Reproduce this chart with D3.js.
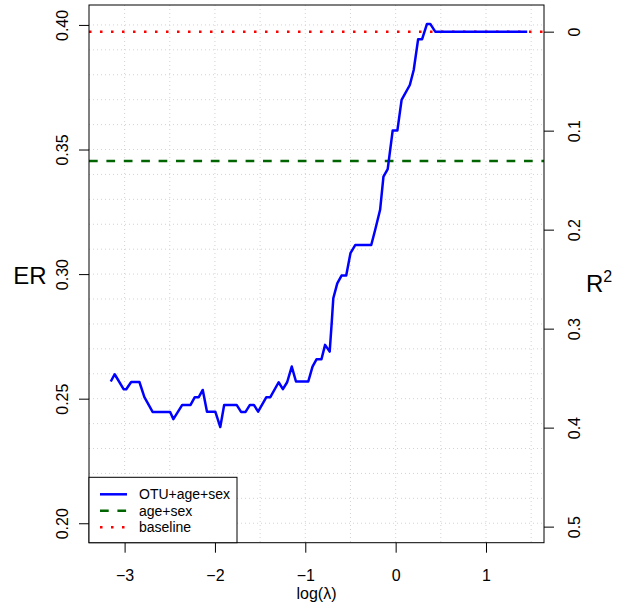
<!DOCTYPE html>
<html lang="en">
  <head>
    <meta charset="UTF-8" />
    <title>ER vs log(lambda)</title>
    <script src="https://d3js.org/d3.v7.min.js"></script>
    <style>
      body {
        margin: 0;
        background: #fff;
      }
      svg text {
        font-family: "Liberation Sans", Arial, sans-serif;
        fill: #000;
      }
    </style>
  </head>
  <body>
    <svg id="chart" width="621" height="608"></svg>
    <script>
      // corners of the OTU+age+sex curve
      const logLambda = [
        -3.153, -3.11, -3.011, -2.982, -2.927, -2.836, -2.781, -2.69, -2.496,
        -2.46, -2.362, -2.27, -2.223, -2.179, -2.135, -2.088, -1.996, -1.941,
        -1.898, -1.76, -1.711, -1.661, -1.613, -1.569, -1.522, -1.431, -1.387,
        -1.295, -1.248, -1.201, -1.15, -1.103, -0.967, -0.92, -0.876, -0.821,
        -0.781, -0.73, -0.708, -0.69, -0.646, -0.599, -0.547, -0.5, -0.446,
        -0.27, -0.227, -0.172, -0.135, -0.088, -0.033, 0.019, 0.066, 0.157,
        0.2, 0.249, 0.293, 0.347, 0.383, 0.438, 1.456,
      ];
      const erOTU = [
        0.2569, 0.2598, 0.2538, 0.2538, 0.2567, 0.2567, 0.2506, 0.2447, 0.2447,
        0.2418, 0.2475, 0.2475, 0.2506, 0.2506, 0.2535, 0.2448, 0.2448, 0.2386,
        0.2475, 0.2475, 0.2447, 0.2447, 0.2475, 0.2475, 0.2448, 0.2506, 0.2506,
        0.2566, 0.2538, 0.2566, 0.2629, 0.2569, 0.2569, 0.2629, 0.2658, 0.2658,
        0.2716, 0.2689, 0.2803, 0.2903, 0.2963, 0.2994, 0.2994, 0.3084, 0.3117,
        0.3117, 0.3177, 0.3258, 0.3391, 0.3421, 0.3576, 0.3576, 0.3699, 0.3759,
        0.3819, 0.3943, 0.3943, 0.4004, 0.4004, 0.3973, 0.3973,
      ];
      const erAgeSex = 0.3454;
      const erBaseline = 0.3973;

      const xTicks = [-3, -2, -1, 0, 1];
      const erTicks = [0.2, 0.25, 0.3, 0.35, 0.4];
      const r2Ticks = [0, 0.1, 0.2, 0.3, 0.4, 0.5];
      const legendLabels = ["OTU+age+sex", "age+sex", "baseline"];

      const svg = d3.select("#chart");
      const plot = { left: 89, right: 544, top: 5, bottom: 542.7 };

      const x = d3
        .scaleLinear()
        .domain([-3.394, 1.642])
        .range([plot.left, plot.right]);
      const y = d3
        .scaleLinear()
        .domain([0.1922, 0.408])
        .range([plot.bottom, plot.top]);

      // dotted grid
      const grid = svg.append("g").attr("stroke", "#d3d3d3").attr("stroke-dasharray", "1 3");
      grid
        .selectAll(".gx")
        .data(d3.range(-3, 1.51, 0.5))
        .join("line")
        .attr("x1", (d) => x(d))
        .attr("x2", (d) => x(d))
        .attr("y1", plot.top)
        .attr("y2", plot.bottom);
      grid
        .selectAll(".gy")
        .data(d3.range(20, 40.1, 1).map((d) => d / 100))
        .join("line")
        .attr("x1", plot.left)
        .attr("x2", plot.right)
        .attr("y1", (d) => y(d))
        .attr("y2", (d) => y(d));

      // reference lines
      svg
        .append("line")
        .attr("x1", plot.left)
        .attr("x2", plot.right)
        .attr("y1", y(erAgeSex))
        .attr("y2", y(erAgeSex))
        .attr("stroke", "#006400")
        .attr("stroke-width", 2.5)
        .attr("stroke-dasharray", "8.7 8.7");
      svg
        .append("line")
        .attr("x1", plot.left)
        .attr("x2", plot.right)
        .attr("y1", y(erBaseline))
        .attr("y2", y(erBaseline))
        .attr("stroke", "#ff0000")
        .attr("stroke-width", 2.5)
        .attr("stroke-dasharray", "2.5 8.5");

      // OTU curve
      const line = d3
        .line()
        .x((d, i) => x(logLambda[i]))
        .y((d) => y(d));
      svg
        .append("path")
        .datum(erOTU)
        .attr("d", line)
        .attr("fill", "none")
        .attr("stroke", "#0000ff")
        .attr("stroke-width", 2.5)
        .attr("stroke-linejoin", "round");

      // axes
      const bottomAxis = svg
        .append("g")
        .attr("transform", `translate(0,${plot.bottom})`)
        .call(
          d3.axisBottom(x).tickValues(xTicks).tickFormat(d3.format("d")).tickSize(10).tickPadding(17)
        );
      const leftAxis = svg
        .append("g")
        .attr("transform", `translate(${plot.left},0)`)
        .call(d3.axisLeft(y).tickValues(erTicks).tickFormat(d3.format(".2f")).tickSize(10));
      const rightAxis = svg
        .append("g")
        .attr("transform", `translate(${plot.right},0)`)
        .call(
          d3
            .axisRight(d3.scaleLinear().domain([0, 1]).range([y(erBaseline), y(0)]))
            .tickValues(r2Ticks)
            .tickFormat((d) => String(d))
            .tickSize(10)
        );

      [bottomAxis, leftAxis, rightAxis].forEach((a) => {
        a.select(".domain").remove();
        a.selectAll("line").attr("stroke", "#000");
        a.selectAll("text").attr("font-size", 16);
      });

      leftAxis
        .selectAll("text")
        .attr("x", 0)
        .attr("dy", 0)
        .attr("text-anchor", "middle")
        .attr("transform", "translate(-21,0) rotate(-90)");
      rightAxis
        .selectAll("text")
        .attr("x", 0)
        .attr("dy", 0)
        .attr("text-anchor", "middle")
        .attr("transform", "translate(36,0) rotate(-90)");

      // box
      svg
        .append("rect")
        .attr("x", plot.left)
        .attr("y", plot.top)
        .attr("width", plot.right - plot.left)
        .attr("height", plot.bottom - plot.top)
        .attr("fill", "none")
        .attr("stroke", "#000")
        .attr("stroke-width", 1);

      // axis titles
      svg
        .append("text")
        .attr("x", 30)
        .attr("y", 284)
        .attr("text-anchor", "middle")
        .attr("font-size", 24)
        .text("ER");
      const r2 = svg
        .append("text")
        .attr("x", 586)
        .attr("y", 292)
        .attr("font-size", 24);
      r2.append("tspan").text("R");
      r2.append("tspan").attr("dy", -10).attr("font-size", 16).text("2");
      svg
        .append("text")
        .attr("x", (plot.left + plot.right) / 2)
        .attr("y", 599)
        .attr("text-anchor", "middle")
        .attr("font-size", 16)
        .text("log(λ)");

      // legend
      const legend = svg.append("g");
      legend
        .append("rect")
        .attr("x", plot.left)
        .attr("y", 477.3)
        .attr("width", 148)
        .attr("height", plot.bottom - 477.3)
        .attr("fill", "#fff")
        .attr("stroke", "#000");
      const styles = [
        { color: "#0000ff", dash: null },
        { color: "#006400", dash: "8.7 8.7" },
        { color: "#ff0000", dash: "2.5 8.5" },
      ];
      const rows = legend
        .selectAll(".row")
        .data(legendLabels)
        .join("g")
        .attr("transform", (d, i) => `translate(0,${494.3 + i * 16.5})`);
      rows
        .append("line")
        .attr("x1", 100)
        .attr("x2", 127)
        .attr("stroke", (d, i) => styles[i].color)
        .attr("stroke-width", 2.5)
        .attr("stroke-dasharray", (d, i) => styles[i].dash);
      rows
        .append("text")
        .attr("x", 139)
        .attr("dy", "0.35em")
        .attr("font-size", 14)
        .text((d) => d);
    </script>
  </body>
</html>
